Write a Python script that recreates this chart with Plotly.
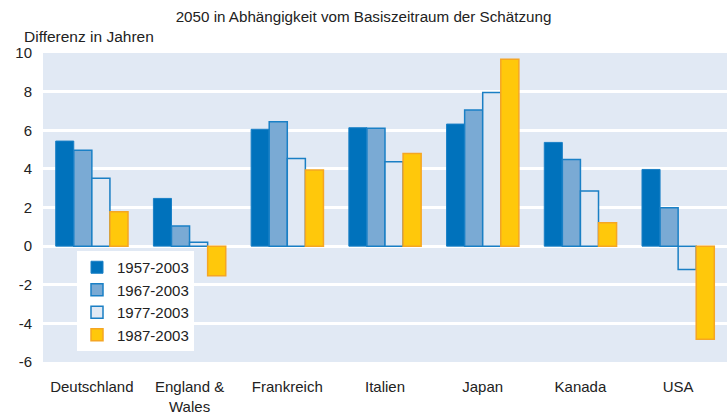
import plotly.graph_objects as go

categories = ["Deutschland", "England &<br>Wales", "Frankreich", "Italien", "Japan", "Kanada", "USA"]
s1957 = [5.44, 2.47, 6.05, 6.13, 6.32, 5.37, 3.97]
s1967 = [4.97, 1.04, 6.44, 6.10, 7.05, 4.49, 1.99]
s1977 = [3.52, 0.20, 4.54, 4.37, 7.96, 2.85, -1.21]
s1987 = [1.78, -1.54, 3.94, 4.80, 9.67, 1.21, -4.82]
series_names = ["1957-2003", "1967-2003", "1977-2003", "1987-2003"]
y_ticks = [-6, -4, -2, 0, 2, 4, 6, 8, 10]
y_tick_labels = ["-6", "-4", "-2", "0", "2", "4", "6", "8", "10"]

bg = "#E1E9F4"
styles = [
    dict(color="#0072BC", line=dict(color="#1A80C6", width=1)),
    dict(color="#7AAAD4", line=dict(color="#1A80C6", width=1.5)),
    dict(color=bg, line=dict(color="#1A7FC4", width=1.5)),
    dict(color="#FFC80B", line=dict(color="#F5A623", width=1.5)),
]

fig = go.Figure()
for name, vals, st in zip(series_names, [s1957, s1967, s1977, s1987], styles):
    fig.add_trace(go.Bar(x=categories, y=vals, name=name, marker=st))

font = "Liberation Sans, Arial, sans-serif"
fig.update_layout(
    width=727, height=417,
    margin=dict(l=43, r=0, t=53, b=55, autoexpand=False),
    paper_bgcolor="white",
    plot_bgcolor=bg,
    barmode="group",
    bargap=0.26,
    bargroupgap=0,
    font=dict(family=font, size=15, color="#222222"),
    title=dict(text="2050 in Abhängigkeit vom Basiszeitraum der Schätzung",
               x=0.5, xanchor="center", y=1 - 17 / 417, yanchor="middle",
               font=dict(size=15.2, color="#222222")),
    showlegend=True,
    legend=dict(x=(77 - 43) / 684, y=(362 - 251) / 309, xanchor="left", yanchor="top",
                bgcolor="white", borderwidth=0,
                font=dict(size=15, color="#222222"),
                tracegroupgap=0, itemwidth=30),
    annotations=[dict(text="Differenz in Jahren", x=(22 - 43) / 684, xref="paper", xanchor="left",
                      y=(362 - 37) / 309, yref="paper", yanchor="middle", showarrow=False,
                      font=dict(size=15.5, color="#222222"))],
    xaxis=dict(showgrid=False, ticks="", tickfont=dict(size=15), ticklabelstandoff=14,
               automargin=False),
    yaxis=dict(range=[-6, 10], tickvals=y_ticks, ticktext=y_tick_labels,
               showgrid=True, gridcolor="white",
               gridwidth=3, zeroline=True, zerolinecolor="white", zerolinewidth=3,
               ticks="", tickfont=dict(size=15), ticklabelstandoff=10, automargin=False),
)

fig.write_html("out.html", config={"displayModeBar": False},
               post_script="document.body.style.margin='0px';")
